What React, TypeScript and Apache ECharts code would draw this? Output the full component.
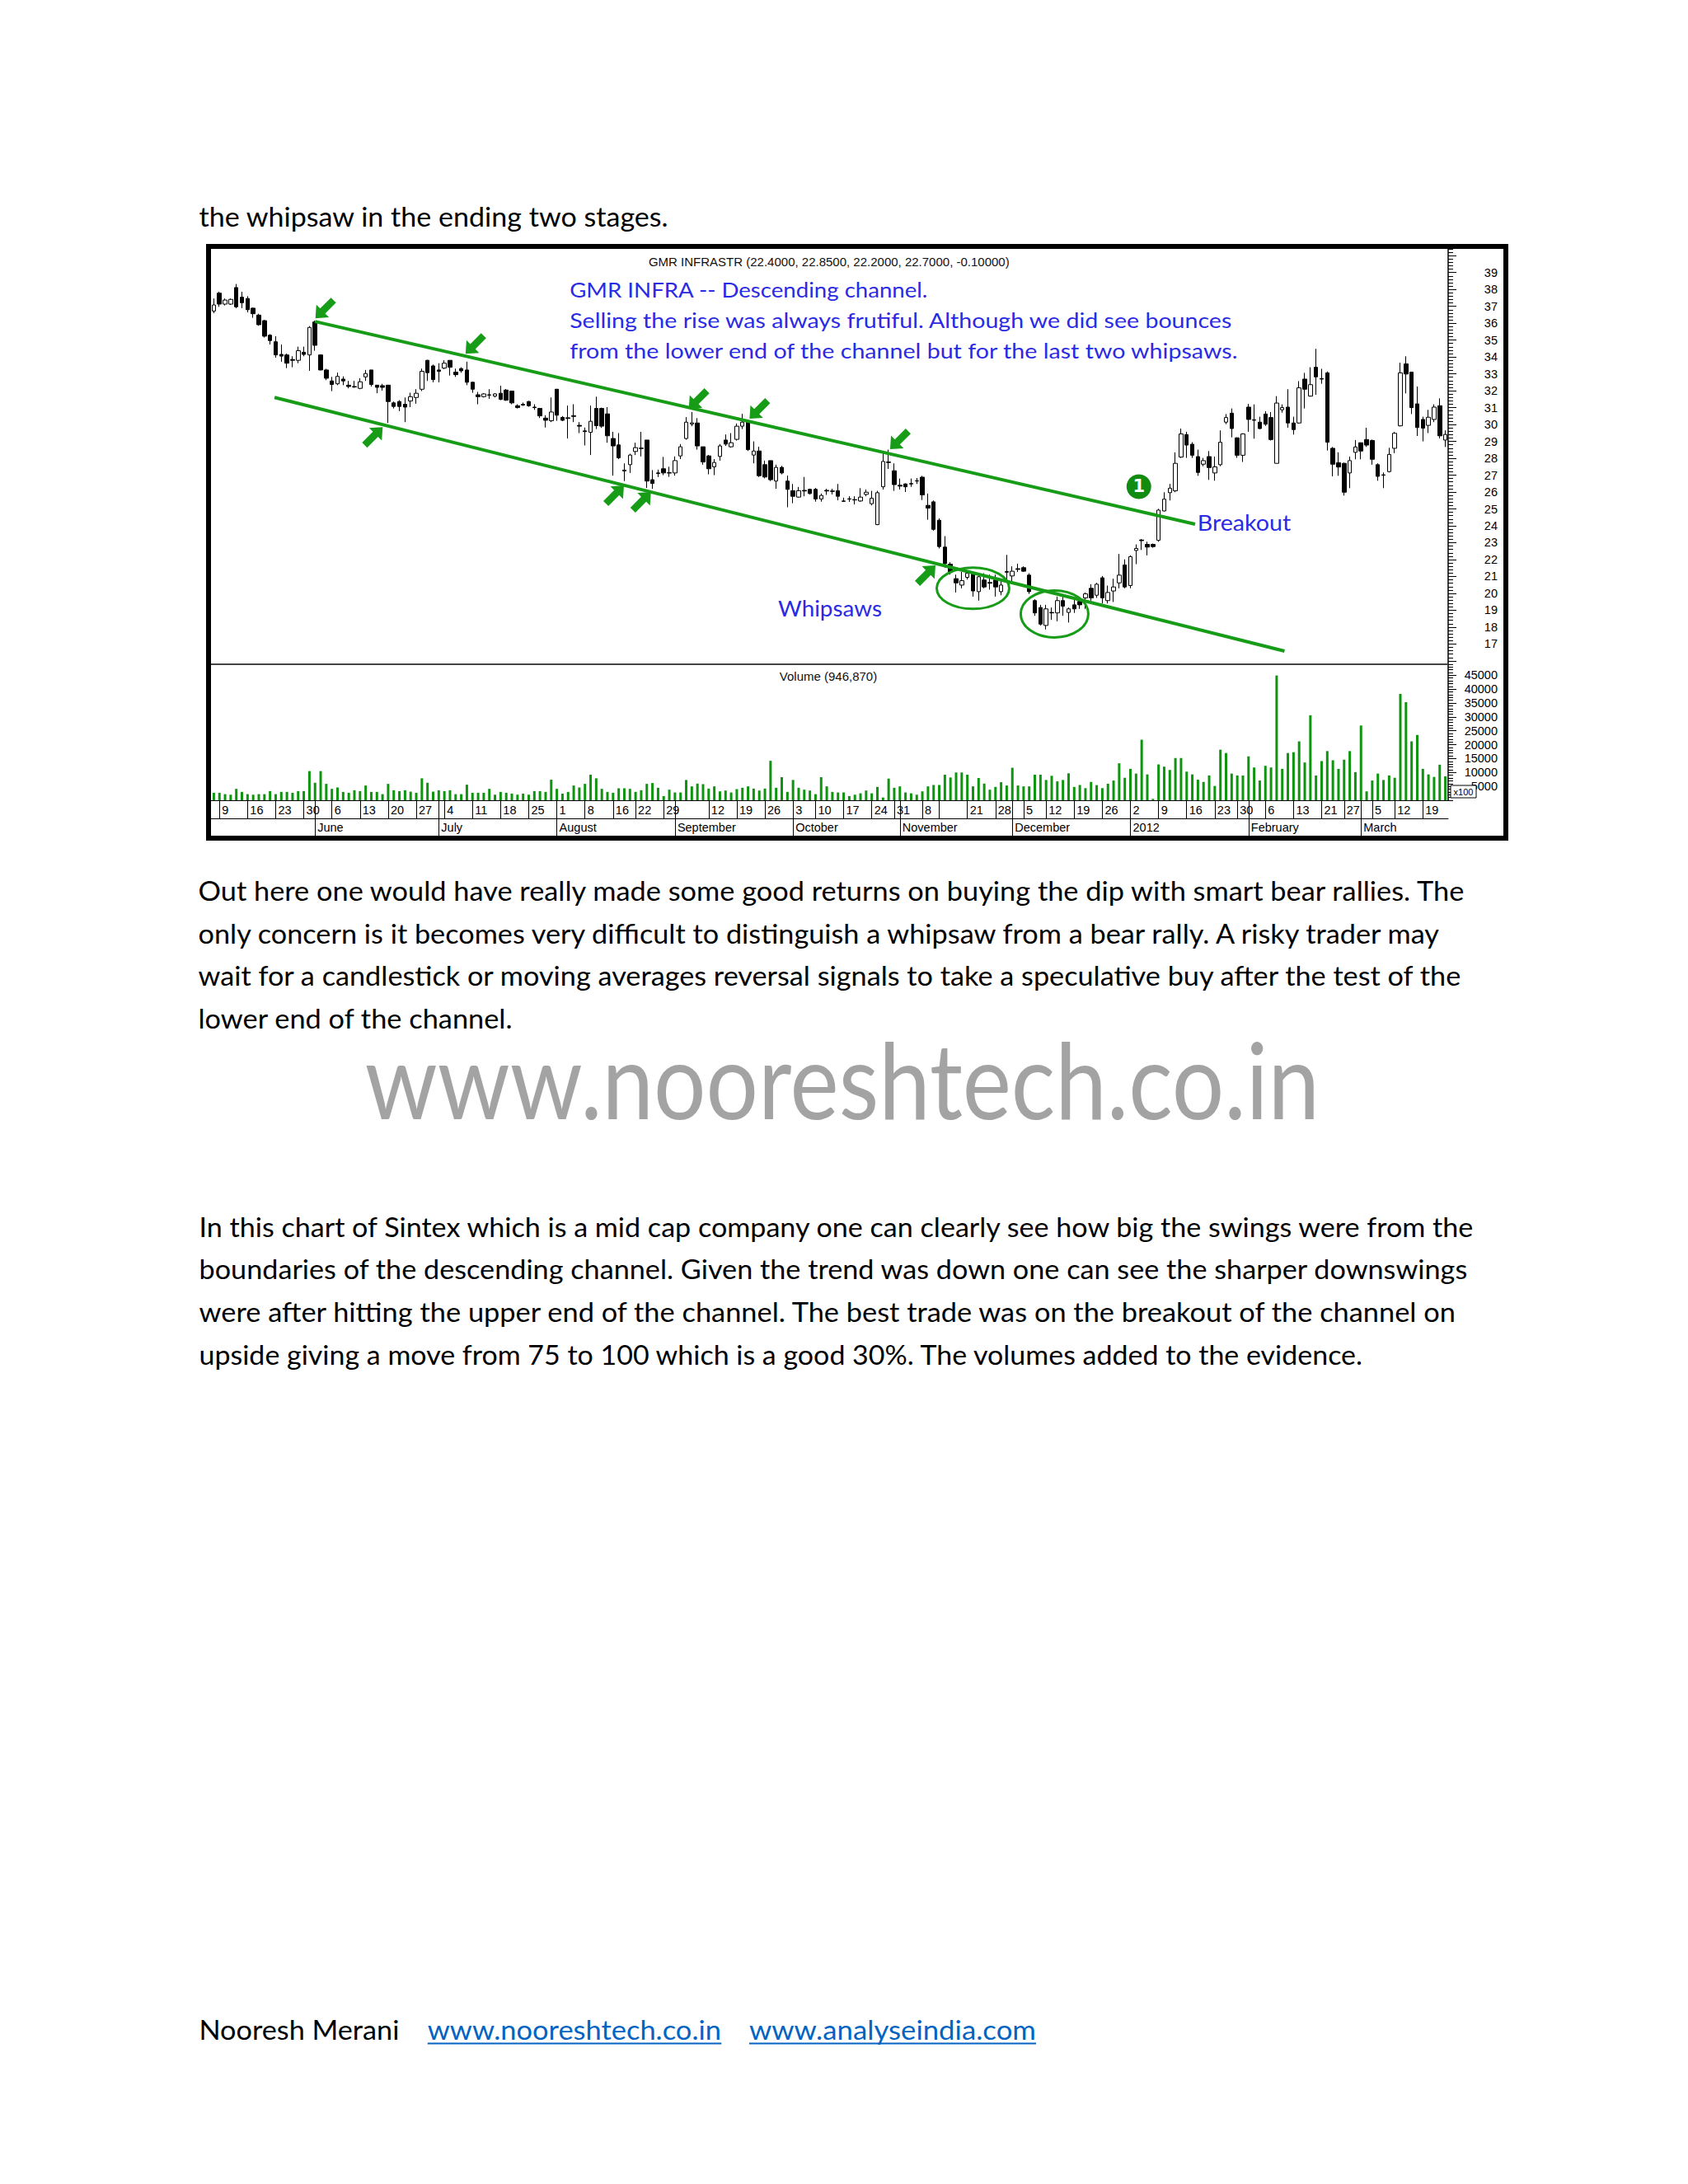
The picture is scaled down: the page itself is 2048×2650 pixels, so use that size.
import React, { useEffect, useRef } from "react";
import * as echarts from "echarts";

// ---------------- DATA ----------------
const TRADING_DAYS: [string, number[]][] = [
  ["2011-05", [6, 9, 10, 11, 12, 13, 16, 17, 18, 19, 20, 23, 24, 25, 26, 27, 30, 31]],
  ["2011-06", [1, 2, 3, 6, 7, 8, 9, 10, 13, 14, 15, 16, 17, 20, 21, 22, 23, 24, 27, 28, 29, 30]],
  ["2011-07", [1, 4, 5, 6, 7, 8, 11, 12, 13, 14, 15, 18, 19, 20, 21, 22, 25, 26, 27, 28, 29]],
  ["2011-08", [1, 2, 3, 4, 5, 8, 9, 10, 11, 12, 16, 17, 18, 19, 22, 23, 24, 25, 26, 29, 30]],
  ["2011-09", [2, 5, 6, 7, 8, 9, 12, 13, 14, 15, 16, 19, 20, 21, 22, 23, 26, 27, 28, 29, 30]],
  ["2011-10", [3, 4, 5, 7, 10, 11, 12, 13, 14, 17, 18, 19, 20, 21, 24, 25, 26, 28, 31]],
  ["2011-11", [1, 2, 3, 4, 8, 9, 11, 14, 15, 16, 17, 18, 21, 22, 23, 24, 25, 28, 29, 30]],
  ["2011-12", [1, 2, 5, 7, 8, 9, 12, 13, 14, 15, 16, 19, 20, 21, 22, 23, 26, 27, 28, 29, 30]],
  ["2012-01", [2, 3, 4, 5, 6, 9, 10, 11, 12, 13, 16, 17, 18, 19, 20, 23, 24, 25, 27, 30, 31]],
  ["2012-02", [1, 2, 3, 6, 7, 8, 9, 10, 13, 14, 15, 16, 17, 21, 22, 23, 24, 27, 28, 29]],
  ["2012-03", [1, 2, 5, 6, 7, 9, 12, 13, 14, 15, 16, 19, 20, 21, 22, 23]],
];

const OPEN = [
  36.72, 37.78, 37.13, 37.13, 38.11, 37.54, 37.46, 36.89, 36.48, 36.15,
  35.29, 34.90, 34.15, 34.12, 33.85, 33.80, 34.28, 34.12, 36.07, 34.12,
  33.23, 32.58, 32.41, 32.69, 32.33, 32.25, 32.14, 32.82, 33.23, 32.33,
  32.30, 32.33, 31.28, 31.36, 31.20, 31.39, 31.60, 32.09, 33.80, 33.47,
  33.23, 33.34, 33.80, 33.10, 33.31, 33.23, 32.50, 31.76, 31.65, 31.76,
  31.68, 31.85, 32.04, 31.98, 31.11, 31.20, 31.36, 31.03, 30.95, 30.38,
  30.22, 32.09, 30.42, 30.40, 30.52, 29.95, 29.62, 29.54, 30.95, 30.95,
  30.63, 29.17, 28.79, 27.30, 27.62, 28.40, 28.60, 29.08, 26.73, 27.13,
  27.38, 27.15, 27.13, 28.14, 29.17, 30.03, 30.09, 28.68, 28.14, 27.49,
  28.11, 29.08, 28.68, 29.12, 29.90, 30.14, 28.19, 28.43, 27.62, 27.86,
  26.65, 27.46, 26.65, 26.08, 25.70, 26.10, 26.16, 26.16, 25.59, 26.10,
  26.06, 26.08, 25.47, 25.60, 25.55, 25.47, 25.86, 25.31, 24.07, 26.31,
  27.78, 27.26, 26.40, 26.48, 26.50, 26.67, 26.88, 25.21, 25.42, 24.33,
  22.74, 21.73, 20.87, 20.49, 20.95, 21.14, 20.10, 20.79, 20.64, 20.79,
  20.10, 21.29, 21.03, 21.46, 21.52, 21.08, 19.57, 19.16, 18.10, 18.87,
  18.84, 19.57, 18.87, 19.32, 19.52, 19.73, 20.30, 19.89, 20.92, 19.57,
  20.14, 20.62, 21.68, 20.46, 22.54, 23.16, 22.90, 22.90, 23.14, 24.88,
  25.96, 26.07, 28.07, 29.40, 28.83, 28.10, 27.65, 28.10, 27.13, 27.62,
  30.14, 30.67, 29.21, 28.18, 31.03, 30.28, 30.14, 30.62, 30.41, 27.70,
  30.87, 31.03, 30.09, 30.09, 32.69, 31.68, 33.39, 32.72, 33.06, 28.59,
  27.74, 27.70, 27.13, 28.35, 28.92, 29.11, 29.05, 27.62, 27.02, 27.21,
  28.59, 29.92, 33.59, 33.10, 31.22, 30.30, 29.95, 30.30, 31.11, 29.08,
];
const HIGH = [
  37.46, 37.86, 37.46, 37.46, 38.32, 37.86, 37.60, 36.92, 36.56, 36.20,
  35.35, 35.23, 34.74, 34.20, 34.04, 34.61, 34.61, 35.83, 36.15, 34.15,
  33.30, 32.82, 33.07, 32.85, 32.58, 32.58, 32.74, 33.23, 33.23, 32.33,
  32.41, 32.35, 31.36, 31.44, 31.60, 31.88, 32.09, 33.31, 33.83, 33.55,
  33.63, 33.80, 33.80, 33.31, 33.39, 33.72, 32.53, 31.93, 31.85, 32.09,
  31.85, 32.30, 32.10, 32.00, 31.20, 31.30, 31.40, 31.20, 30.98, 30.55,
  31.60, 32.09, 30.50, 31.12, 31.20, 30.14, 29.82, 31.12, 31.65, 31.00,
  31.03, 29.57, 29.49, 27.70, 28.27, 28.92, 29.57, 29.08, 27.30, 27.33,
  28.08, 27.50, 28.11, 28.84, 30.44, 30.74, 30.38, 28.68, 28.20, 27.95,
  28.84, 29.41, 29.49, 30.06, 30.63, 30.22, 29.00, 28.68, 27.86, 27.86,
  27.62, 27.55, 26.97, 26.48, 26.30, 26.89, 26.20, 26.24, 25.91, 26.19,
  26.19, 26.48, 25.67, 25.75, 25.75, 26.23, 26.15, 26.07, 26.07, 28.35,
  28.51, 27.70, 26.80, 26.51, 26.80, 26.83, 26.96, 25.91, 25.50, 24.44,
  23.39, 21.84, 21.11, 21.27, 21.27, 21.27, 21.19, 21.19, 21.11, 21.11,
  20.75, 22.28, 21.60, 21.76, 21.60, 21.19, 19.65, 19.32, 19.32, 19.16,
  19.81, 19.89, 19.16, 19.65, 19.73, 20.05, 20.54, 20.62, 21.03, 20.46,
  20.87, 22.33, 22.01, 22.25, 22.90, 23.22, 23.06, 22.95, 25.01, 25.99,
  26.48, 28.35, 29.76, 29.57, 28.95, 28.51, 28.02, 28.43, 28.10, 29.65,
  30.62, 30.95, 29.24, 29.48, 31.22, 31.19, 30.46, 30.79, 30.74, 31.68,
  31.19, 32.09, 30.46, 32.57, 33.06, 33.39, 34.48, 33.30, 33.14, 28.67,
  28.35, 27.74, 28.10, 29.08, 28.92, 29.81, 29.11, 27.70, 27.16, 28.62,
  29.57, 33.66, 34.04, 33.11, 32.25, 30.46, 30.87, 31.19, 31.55, 29.65,
];
const LOW = [
  36.59, 36.97, 37.05, 37.08, 36.89, 36.89, 36.64, 36.32, 35.85, 35.15,
  34.74, 33.96, 33.72, 33.34, 33.39, 33.63, 34.04, 33.18, 34.37, 33.20,
  32.63, 31.98, 32.33, 32.33, 32.14, 32.17, 32.09, 32.58, 32.25, 31.85,
  32.01, 30.09, 30.95, 30.79, 30.14, 31.03, 31.23, 31.98, 32.58, 32.50,
  32.50, 33.28, 32.90, 32.82, 33.07, 32.33, 31.88, 31.20, 31.60, 31.52,
  31.60, 31.44, 31.40, 31.20, 30.95, 31.10, 31.05, 30.87, 30.38, 29.82,
  30.14, 30.22, 30.20, 29.17, 30.14, 29.49, 28.76, 28.19, 29.73, 29.80,
  28.92, 26.97, 27.95, 26.65, 27.13, 28.19, 28.11, 26.24, 26.19, 26.89,
  27.00, 26.90, 26.97, 27.95, 29.10, 29.90, 28.51, 27.62, 27.05, 27.00,
  27.86, 28.73, 28.63, 29.05, 29.73, 28.43, 27.70, 26.89, 26.81, 26.65,
  26.19, 27.05, 25.10, 25.34, 25.67, 25.75, 25.85, 25.43, 25.43, 25.83,
  25.86, 25.51, 25.43, 25.42, 25.26, 25.42, 25.75, 25.21, 24.04, 26.15,
  27.37, 26.07, 26.15, 26.00, 26.31, 26.48, 25.53, 24.36, 23.71, 22.66,
  21.52, 21.11, 20.05, 20.30, 20.82, 19.81, 19.57, 20.30, 20.22, 19.81,
  19.89, 20.62, 20.62, 21.27, 21.27, 19.97, 18.67, 18.10, 17.86, 18.43,
  18.35, 18.67, 18.27, 18.84, 19.08, 19.08, 19.57, 19.73, 19.40, 19.40,
  19.49, 20.30, 20.30, 20.30, 21.73, 22.57, 22.25, 22.70, 23.06, 24.85,
  25.50, 25.99, 28.02, 28.02, 28.02, 26.96, 27.53, 26.72, 26.67, 27.53,
  30.02, 29.24, 28.02, 27.78, 29.57, 29.16, 29.73, 29.92, 29.05, 27.70,
  30.70, 29.81, 29.40, 30.05, 30.95, 31.65, 31.76, 32.41, 28.46, 26.93,
  26.96, 25.79, 26.23, 27.94, 27.94, 28.67, 27.62, 26.67, 26.23, 27.16,
  28.30, 29.89, 31.84, 30.62, 29.32, 29.00, 29.49, 30.14, 29.17, 28.67,
];
const CLOSE = [
  37.08, 37.13, 37.37, 37.41, 36.97, 37.21, 36.80, 36.56, 35.91, 35.23,
  34.97, 34.12, 34.05, 33.63, 33.80, 34.37, 34.15, 35.75, 34.69, 33.23,
  32.74, 32.37, 32.85, 32.58, 32.25, 32.22, 32.53, 33.02, 32.37, 32.20,
  32.20, 31.36, 31.07, 31.07, 31.03, 31.65, 31.85, 33.15, 33.07, 32.66,
  33.15, 33.63, 33.39, 32.95, 33.18, 32.50, 32.09, 31.65, 31.81, 31.74,
  31.81, 31.49, 31.44, 31.28, 31.00, 31.15, 31.11, 31.00, 30.51, 30.25,
  30.74, 30.55, 30.25, 30.36, 30.48, 29.90, 29.58, 30.19, 29.93, 29.90,
  29.33, 28.73, 28.03, 27.25, 28.19, 28.63, 28.58, 26.65, 26.51, 27.10,
  27.13, 27.12, 27.86, 28.68, 30.14, 30.10, 28.73, 27.78, 27.38, 27.75,
  28.73, 28.84, 28.92, 29.90, 30.14, 28.51, 28.43, 26.97, 26.89, 26.73,
  27.46, 27.13, 26.16, 25.75, 26.08, 26.06, 25.91, 25.59, 25.80, 26.06,
  26.04, 25.75, 25.45, 25.58, 25.53, 25.70, 25.99, 25.63, 25.96, 27.81,
  27.75, 26.44, 26.35, 26.31, 26.48, 26.65, 25.83, 25.05, 23.79, 22.77,
  21.76, 21.27, 20.62, 20.75, 21.19, 20.14, 20.98, 20.38, 20.60, 20.38,
  20.49, 21.25, 21.31, 21.42, 21.31, 20.10, 18.84, 18.18, 19.08, 18.84,
  19.57, 19.24, 19.08, 19.08, 19.32, 19.97, 19.73, 20.54, 19.73, 20.05,
  20.38, 21.08, 20.38, 22.17, 22.66, 23.12, 22.74, 22.77, 24.93, 25.58,
  26.23, 27.70, 29.44, 28.78, 28.18, 27.16, 27.86, 27.45, 27.49, 28.95,
  30.41, 29.76, 28.18, 29.44, 30.30, 30.25, 29.76, 30.02, 29.11, 31.27,
  31.00, 30.09, 29.70, 32.17, 32.09, 32.36, 32.82, 32.69, 28.95, 27.65,
  27.48, 25.99, 27.86, 28.67, 28.43, 28.78, 27.94, 26.93, 27.00, 28.23,
  29.48, 33.06, 32.99, 31.00, 29.82, 29.78, 30.43, 31.03, 29.33, 29.41,
];
// volume in hundreds of shares (axis is marked x100)
const VOLUME = [
  2700, 2700, 2200, 2000, 4100, 3000, 2200, 2000, 2200, 2200,
  3300, 2200, 3000, 3000, 2700, 3300, 3300, 10500, 6300, 10500,
  5900, 4100, 4600, 3000, 2700, 3600, 3300, 5300, 3000, 3000,
  2200, 5900, 3600, 3300, 3600, 3100, 2700, 7900, 6300, 3100,
  3600, 3300, 3600, 2200, 2200, 5600, 2700, 2700, 2700, 4100,
  2000, 3000, 2700, 2400, 2000, 2400, 2000, 3300, 3300, 3000,
  7400, 4100, 2400, 3000, 5300, 4600, 5900, 9200, 7900, 4100,
  3000, 2700, 4300, 4300, 4100, 3000, 3600, 5900,
  6200, 4500, 1500, 3800, 2800, 2800, 7300, 5000, 6000, 5800,
  4200, 5000, 3200, 3500, 2800, 4000, 4500, 5000, 4200, 3500,
  4200, 14200, 4500, 8300, 3000, 7300, 4500, 3800, 3500, 2200,
  8300, 5000, 3000, 2800, 2800, 1500, 2000, 2500, 3500, 2500,
  4800, 1000, 7800, 4500, 5000, 2800, 2500, 2000, 3200, 5000,
  5500, 5500, 9200, 8200, 10000, 10000, 9200, 5000, 8000, 6000,
  3800, 4800, 6500, 5300, 11700, 5300, 5000, 5000, 9200, 9200,
  7300, 8800, 6800, 7300, 9700, 4800, 5500,
  4350, 6600, 5450, 4350, 5950, 7100, 13300, 8100, 11300, 9600,
  21800, 9300, 500, 12900, 12100, 10900, 15200, 15200, 10300, 9300,
  7400, 6600, 8900, 5150, 18200, 17000, 9600, 8900, 8900, 15800,
  11800, 7100, 12400, 11800, 44900, 11300, 17000, 17300, 21200, 13600,
  30600, 8900, 14100, 17700, 14400, 11300, 14600, 17700, 10100, 26900,
  3200, 7100, 9600, 7300, 8900, 8100, 38300, 35300, 21200, 23500,
  11300, 9300, 8400, 12800, 8600,
];

const PRICE_TICK_LABELS = [17, 18, 19, 20, 21, 22, 23, 24, 25, 26, 27, 28, 29, 30, 31, 32, 33, 34, 35, 36, 37, 38, 39];
const PRICE_MAJOR_TICKS = [16, 17, 18, 19, 20, 21, 22, 23, 24, 25, 26, 27, 28, 29, 30, 31, 32, 33, 34, 35, 36, 37, 38, 39, 40];
const VOLUME_TICK_LABELS = [5000, 10000, 15000, 20000, 25000, 30000, 35000, 40000, 45000];

// annotations, in [trading-day index, price]
const UPPER_CHANNEL = [[18, 36.1], [174.5, 24.1]];
const LOWER_CHANNEL = [[10.8, 31.6], [190.4, 16.58]];
const SELL_ARROWS = [[19.9, 36.9], [46.6, 34.8], [86.3, 31.54], [97.1, 30.95], [122.1, 29.15]];
const BUY_ARROWS = [[28.2, 29.24], [71.1, 25.78], [75.9, 25.39], [126.5, 21.05]];
const WHIPSAW_ZONES = [[135.0, 20.3], [149.5, 18.78]];
const BREAKOUT_MARK = [[164.5, 26.32]];

const MONTH_NAMES: Record<string, string> = {
  "05": "May", "06": "June", "07": "July", "08": "August", "09": "September",
  "10": "October", "11": "November", "12": "December", "02": "February", "03": "March",
};
const NO_LABEL_WEEKS = ["2011-09-05", "2011-11-14"];
const NO_TICK_WEEKS = ["2011-09-05"];

const CHART_TITLE = "GMR INFRASTR (22.4000, 22.8500, 22.2000, 22.7000, -0.10000)";
const VOLUME_TITLE = "Volume (946,870)";
const NOTE_LINES = [
  "GMR INFRA -- Descending channel.",
  "Selling the rise was always frutiful. Although we did see bounces",
  "from the lower end of the channel but for the last two whipsaws.",
];

// ---------------- STYLE / LAYOUT ----------------
const GREEN = "#179c17";
const VOL_GREEN = "#0e940e";
const BLUE = "#2a2ae4";
const LINK_BLUE = "#0563c1";
const SMALL_FONT = "Liberation Sans";
const BODY_FONT = "Lato";
const ELLIPSE_RADII = [[44, 25], [41, 28.5]];

const ARROW_UP_RIGHT = "path://M85.36 14.64 L32.32 18.18 L47.17 33.03 L4.74 75.46 L24.54 95.26 L66.97 52.83 L81.82 67.68 Z";
const ARROW_DOWN_LEFT = "path://M14.64 85.36 L67.68 81.82 L52.83 66.97 L95.26 24.54 L75.46 4.74 L33.03 47.17 L18.18 32.32 Z";

const PAGE_TEXT = [
  { text: "the whipsaw in the ending two stages.", x: 241.5, y: 266.5, w: 571 },
  { text: "Out here one would have really made some good returns on buying the dip with smart bear rallies. The", x: 240.5, y: 1084.5, w: 1540.5 },
  { text: "only concern is it becomes very difficult to distinguish a whipsaw from a bear rally. A risky trader may", x: 240.5, y: 1136.2, w: 1515 },
  { text: "wait for a candlestick or moving averages reversal signals to take a speculative buy after the test of the", x: 240.5, y: 1187.9, w: 1535.5 },
  { text: "lower end of the channel.", x: 240.5, y: 1239.6, w: 382.5 },
  { text: "In this chart of Sintex which is a mid cap company one can clearly see how big the swings were from the", x: 241.5, y: 1492.2, w: 1551 },
  { text: "boundaries of the descending channel. Given the trend was down one can see the sharper downswings", x: 241.5, y: 1543.9, w: 1541 },
  { text: "were after hitting the upper end of the channel. The best trade was on the breakout of the channel on", x: 241.5, y: 1595.6, w: 1529.5 },
  { text: "upside giving a move from 75 to 100 which is a good 30%. The volumes added to the evidence.", x: 241.5, y: 1647.3, w: 1414.5 },
  { text: "Nooresh Merani", x: 241.5, y: 2466.5, w: 243 },
];
const LINKS = [
  { text: "www.nooreshtech.co.in", x: 518.8, y: 2466.5, w: 356.5 },
  { text: "www.analyseindia.com", x: 909, y: 2466.5, w: 348 },
];

let measureCtx: CanvasRenderingContext2D | null = null;
function fitScale(text: string, size: number, family: string, weight: string, target: number) {
  if (!measureCtx) measureCtx = document.createElement("canvas").getContext("2d");
  if (!measureCtx) return 1;
  measureCtx.font = `${weight} ${size}px ${family}`;
  const w = measureCtx.measureText(text).width;
  return w > 0 ? target / w : 1;
}

function buildOption() {
  const CATEGORIES: string[] = TRADING_DAYS.flatMap(([ym, days]) =>
    days.map((d) => `${ym}-${String(d).padStart(2, "0")}`)
  );
  const toDate = (s: string) => new Date(Date.UTC(+s.slice(0, 4), +s.slice(5, 7) - 1, +s.slice(8, 10)));
  const weekStarts = new Set<number>();
  const monthStarts = new Set<number>();
  for (let i = 1; i < CATEGORIES.length; i++) {
    const a = toDate(CATEGORIES[i - 1]);
    const b = toDate(CATEGORIES[i]);
    if (b.getUTCDay() < a.getUTCDay() || (b.getTime() - a.getTime()) / 86400000 >= 7) weekStarts.add(i);
    if (CATEGORIES[i].slice(0, 7) !== CATEGORIES[i - 1].slice(0, 7)) monthStarts.add(i);
  }
  const dayTicks = new Set<number>();
  const dayLabels = new Set<number>();
  weekStarts.forEach((i) => {
    if (!NO_TICK_WEEKS.includes(CATEGORIES[i])) dayTicks.add(i);
    if (!NO_LABEL_WEEKS.includes(CATEGORIES[i])) dayLabels.add(i);
  });
  monthStarts.forEach((i) => dayTicks.add(i));
  const N = CATEGORIES.length;

  const graphics: any[] = [];
  const addText = (text: string, x: number, yc: number, w: number, size: number, family: string, fill: string, z = 50) => {
    const s = fitScale(text, size, family, "normal", w);
    graphics.push({
      type: "text", x, y: yc - 0.134 * size, scaleX: s, z, silent: true,
      style: { text, fontSize: size, fontFamily: family, fill, align: "left", verticalAlign: "middle" },
    });
  };

  PAGE_TEXT.forEach((t) => addText(t.text, t.x, t.y, t.w, 33, BODY_FONT, "#000"));
  LINKS.forEach((t) => {
    addText(t.text, t.x, t.y, t.w, 33, BODY_FONT, LINK_BLUE);
    graphics.push({ type: "line", z: 50, silent: true, shape: { x1: t.x, y1: t.y + 13, x2: t.x + t.w, y2: t.y + 13 }, style: { stroke: LINK_BLUE, lineWidth: 2 } });
  });
  addText("www.nooreshtech.co.in", 442.7, 1326, 1159, 128, BODY_FONT, "#a3a3a3");

  // chart annotations
  addText(NOTE_LINES[0], 691.2, 355.3, 435.5, 25, BODY_FONT, BLUE, 60);
  addText(NOTE_LINES[1], 691.2, 392, 805.6, 25, BODY_FONT, BLUE, 60);
  addText(NOTE_LINES[2], 691.2, 428.7, 812.6, 25, BODY_FONT, BLUE, 60);
  addText("Whipsaws", 944, 741, 126, 27, BODY_FONT, BLUE, 60);
  addText("Breakout", 1452.7, 637, 113.6, 27, BODY_FONT, BLUE, 60);

  graphics.push({
    type: "text", x: 1005.8, y: 317, z: 60, silent: true,
    style: { text: CHART_TITLE, fontSize: 15, fontFamily: SMALL_FONT, fill: "#111", align: "center", verticalAlign: "middle" },
  });
  graphics.push({
    type: "text", x: 1005, y: 820, z: 60, silent: true,
    style: { text: VOLUME_TITLE, fontSize: 15, fontFamily: SMALL_FONT, fill: "#111", align: "center", verticalAlign: "middle" },
  });
  // x100 box
  graphics.push({ type: "rect", z: 60, silent: true, shape: { x: 1760, y: 953, width: 31, height: 15 }, style: { fill: "#fff", stroke: "#000", lineWidth: 1 } });
  graphics.push({
    type: "text", x: 1775.5, y: 960.5, z: 61, silent: true,
    style: { text: "x100", fontSize: 11, fontFamily: SMALL_FONT, fill: "#000", align: "center", verticalAlign: "middle" },
  });
  // outer frame
  graphics.push({ type: "rect", z: 100, silent: true, shape: { x: 253, y: 299, width: 1574, height: 718 }, style: { fill: "none", stroke: "#000", lineWidth: 6 } });

  const axisLabelBase = { fontFamily: SMALL_FONT, fontSize: 14.5, color: "#000" };

  return {
    animation: false,
    backgroundColor: "#ffffff",
    grid: [
      { left: 256, width: 1501, top: 302, height: 504 },
      { left: 256, width: 1501, top: 806, height: 165 },
    ],
    xAxis: [
      {
        type: "category", gridIndex: 0, data: CATEGORIES, boundaryGap: true, position: "bottom",
        axisLine: { show: true, onZero: false, lineStyle: { color: "#444", width: 2 } },
        axisTick: { show: false }, axisLabel: { show: false }, splitLine: { show: false },
      },
      {
        type: "category", gridIndex: 1, data: CATEGORIES, boundaryGap: true, position: "bottom",
        axisLine: { show: true, onZero: false, lineStyle: { color: "#000", width: 1 } },
        axisTick: { show: true, alignWithLabel: true, length: 22, interval: (i: number) => dayTicks.has(i), lineStyle: { color: "#000", width: 1 } },
        axisLabel: {
          ...axisLabelBase, interval: (i: number) => dayLabels.has(i), align: "left", margin: 4, padding: [0, 0, 0, 3],
          formatter: (v: string) => String(parseInt(v.slice(8), 10)),
        },
        splitLine: { show: false },
      },
      {
        type: "category", gridIndex: 1, data: CATEGORIES, boundaryGap: true, position: "bottom", offset: 22,
        axisLine: { show: true, onZero: false, lineStyle: { color: "#000", width: 1 } },
        axisTick: { show: true, alignWithLabel: true, length: 22, interval: (i: number) => monthStarts.has(i), lineStyle: { color: "#000", width: 1 } },
        axisLabel: {
          ...axisLabelBase, interval: (i: number) => monthStarts.has(i), align: "left", margin: 3, padding: [0, 0, 0, 3],
          formatter: (v: string) => (v.slice(5, 7) === "01" ? v.slice(0, 4) : MONTH_NAMES[v.slice(5, 7)]),
        },
        splitLine: { show: false },
      },
      { type: "value", gridIndex: 0, min: -0.5, max: N - 0.5, show: false, position: "bottom", axisLine: { onZero: false } },
    ],
    yAxis: [
      {
        type: "value", gridIndex: 0, position: "right", min: 15.8, max: 40.4,
        axisLine: { show: true, onZero: false, lineStyle: { color: "#000", width: 1.5 } },
        axisTick: { show: true, length: 10, customValues: PRICE_MAJOR_TICKS, lineStyle: { color: "#000" } },
        axisLabel: { ...axisLabelBase, customValues: PRICE_TICK_LABELS, align: "right", margin: 60, formatter: (v: number) => String(v) },
        splitLine: { show: false },
      },
      {
        type: "value", gridIndex: 0, position: "right", min: 15.8, max: 40.4, interval: 0.2,
        axisLine: { show: false, onZero: false }, axisTick: { show: true, length: 6, lineStyle: { color: "#000" } },
        axisLabel: { show: false }, splitLine: { show: false },
      },
      {
        type: "value", gridIndex: 1, position: "right", min: 0, max: 48950,
        axisLine: { show: true, onZero: false, lineStyle: { color: "#000", width: 1.5 } },
        axisTick: { show: true, length: 10, customValues: VOLUME_TICK_LABELS, lineStyle: { color: "#000" } },
        axisLabel: { ...axisLabelBase, customValues: VOLUME_TICK_LABELS, align: "right", margin: 60, formatter: (v: number) => String(v) },
        splitLine: { show: false },
      },
      {
        type: "value", gridIndex: 1, position: "right", min: 0, max: 48950, interval: 1000,
        axisLine: { show: false, onZero: false }, axisTick: { show: true, length: 6, lineStyle: { color: "#000" } },
        axisLabel: { show: false }, splitLine: { show: false },
      },
    ],
    series: [
      {
        type: "candlestick", xAxisIndex: 0, yAxisIndex: 0, barWidth: 5,
        data: CATEGORIES.map((_, i) => [OPEN[i], CLOSE[i], LOW[i], HIGH[i]]),
        itemStyle: { color: "#ffffff", color0: "#000000", borderColor: "#000000", borderColor0: "#000000", borderWidth: 1 },
        silent: true,
      },
      {
        type: "bar", xAxisIndex: 1, yAxisIndex: 2, barWidth: 3, data: VOLUME,
        itemStyle: { color: VOL_GREEN }, silent: true,
      },
      {
        type: "line", xAxisIndex: 3, yAxisIndex: 0, data: UPPER_CHANNEL, symbol: "none", z: 4,
        lineStyle: { color: GREEN, width: 4 }, silent: true,
      },
      {
        type: "line", xAxisIndex: 3, yAxisIndex: 0, data: LOWER_CHANNEL, symbol: "none", z: 4,
        lineStyle: { color: GREEN, width: 4 }, silent: true,
      },
      {
        type: "scatter", xAxisIndex: 3, yAxisIndex: 0, data: SELL_ARROWS, symbol: ARROW_DOWN_LEFT, symbolSize: 25, z: 5,
        itemStyle: { color: GREEN, opacity: 1 }, silent: true,
      },
      {
        type: "scatter", xAxisIndex: 3, yAxisIndex: 0, data: BUY_ARROWS, symbol: ARROW_UP_RIGHT, symbolSize: 25, z: 5,
        itemStyle: { color: GREEN, opacity: 1 }, silent: true,
      },
      {
        type: "scatter", xAxisIndex: 3, yAxisIndex: 0, data: BREAKOUT_MARK, symbol: "circle", symbolSize: 30, z: 5,
        itemStyle: { color: "#118c11", opacity: 1 }, silent: true,
        label: { show: true, position: "inside", formatter: "1", color: "#ffffff", fontSize: 21, fontWeight: "bold", fontFamily: "DejaVu Sans" },
      },
      {
        type: "custom", xAxisIndex: 3, yAxisIndex: 0, data: WHIPSAW_ZONES, z: 5, silent: true,
        renderItem: (params: any, api: any) => {
          const c = api.coord([api.value(0), api.value(1)]);
          const r = ELLIPSE_RADII[params.dataIndex];
          return {
            type: "ellipse",
            shape: { cx: c[0], cy: c[1], rx: r[0], ry: r[1] },
            style: { fill: "none", stroke: GREEN, lineWidth: 3 },
          };
        },
      },
    ],
    graphic: { elements: graphics },
  };
}

export default function App() {
  const ref = useRef<HTMLDivElement>(null);
  useEffect(() => {
    document.body.style.margin = "0";
    if (!ref.current) return;
    const chart = echarts.init(ref.current, undefined, { renderer: "svg", width: 2048, height: 2650 });
    chart.setOption(buildOption() as any);
    return () => chart.dispose();
  }, []);
  return <div ref={ref} style={{ width: 2048, height: 2650 }} />;
}
